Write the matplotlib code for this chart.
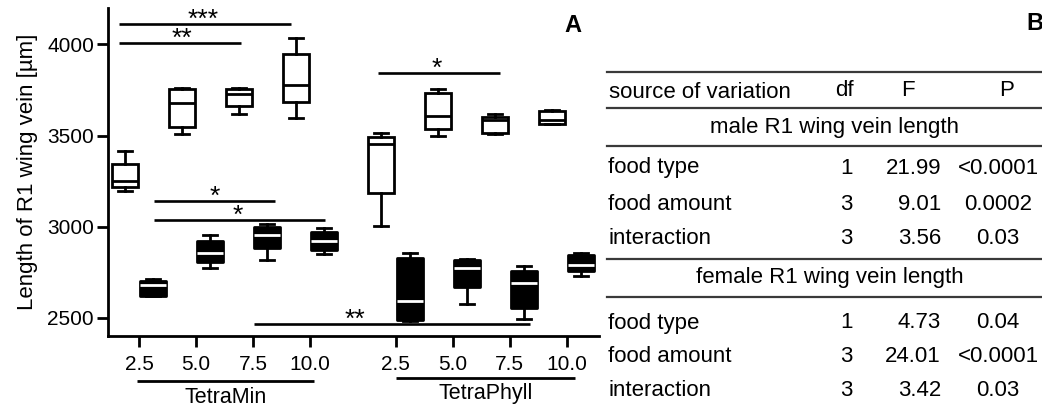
import numpy as np
import matplotlib
matplotlib.use("Agg")
import matplotlib.pyplot as plt

plt.rcParams["font.family"] = ["Liberation Sans", "DejaVu Sans"]

# ---- data --------------------------------------------------------------
amounts = ["2.5", "5.0", "7.5", "10.0"]
foods = ["TetraMin", "TetraPhyll"]
positions = [1, 2, 3, 4, 5.5, 6.5, 7.5, 8.5]

male_lo = [3198, 3511, 3621, 3597, 3005, 3496, 3511, 3562]
male_q1 = [3218, 3548, 3661, 3683, 3185, 3537, 3515, 3564]
male_med = [3249, 3679, 3729, 3777, 3456, 3610, 3584, 3588]
male_q3 = [3344, 3753, 3753, 3945, 3493, 3731, 3603, 3634]
male_hi = [3414, 3762, 3762, 4037, 3515, 3753, 3619, 3638]

fem_lo = [2617, 2773, 2819, 2852, 2485, 2575, 2495, 2727]
fem_q1 = [2621, 2804, 2883, 2874, 2489, 2668, 2553, 2755]
fem_med = [2678, 2855, 2952, 2919, 2593, 2773, 2690, 2791]
fem_q3 = [2700, 2923, 2996, 2971, 2828, 2819, 2758, 2846]
fem_hi = [2712, 2956, 3015, 2993, 2855, 2824, 2786, 2855]

# significance bars: x0, x1, y, label, label x
sig_x0 = [0.65, 0.65, 1.26, 1.26, 3.02, 5.19]
sig_x1 = [3.67, 2.79, 3.39, 4.26, 7.86, 7.33]
sig_y = [4114, 4009, 3139, 3038, 2467, 3844]
sig_lab = ["***", "**", "*", "*", "**", "*"]
sig_tx = [2.12, 1.75, 2.33, 2.74, 4.79, 6.23]

# ANOVA table
tbl_source = ["food type", "food amount", "interaction"]
tbl_df = ["1", "3", "3"]
male_F = ["21.99", "9.01", "3.56"]
male_P = ["<0.0001", "0.0002", "0.03"]
fem_F = ["4.73", "24.01", "3.42"]
fem_P = ["0.04", "<0.0001", "0.03"]


def stats(lo, q1, med, q3, hi):
    return [dict(whislo=a, q1=b, med=c, q3=d, whishi=e, fliers=[])
            for a, b, c, d, e in zip(lo, q1, med, q3, hi)]


W, H = 1042, 408
fig = plt.figure(figsize=(W / 100, H / 100), dpi=100)
ax = fig.add_axes([108 / W, (H - 336) / H, 491 / W, 328 / H])

lw = 2.0
pos = np.array(positions)
ax.bxp(stats(male_lo, male_q1, male_med, male_q3, male_hi),
       positions=pos - 0.25, widths=0.46, capwidths=0.25, patch_artist=True,
       showfliers=False, manage_ticks=False,
       boxprops=dict(facecolor="white", edgecolor="black", linewidth=lw),
       medianprops=dict(color="black", linewidth=lw),
       whiskerprops=dict(color="black", linewidth=lw),
       capprops=dict(color="black", linewidth=lw))
ax.bxp(stats(fem_lo, fem_q1, fem_med, fem_q3, fem_hi),
       positions=pos + 0.25, widths=0.46, capwidths=0.25, patch_artist=True,
       showfliers=False, manage_ticks=False,
       boxprops=dict(facecolor="black", edgecolor="black", linewidth=lw,
                     joinstyle="round"),
       medianprops=dict(color="white", linewidth=lw),
       whiskerprops=dict(color="black", linewidth=lw),
       capprops=dict(color="black", linewidth=lw))

ax.set_xlim(0.456, 9.07)
ax.set_ylim(2400, 4200)
ax.set_yticks([2500, 3000, 3500, 4000])
ax.set_xticks(positions)
ax.set_xticklabels(amounts * 2)
ax.tick_params(axis="both", labelsize=15, width=lw, length=8, pad=2)
ax.tick_params(axis="x", pad=6)
for s in ["top", "right"]:
    ax.spines[s].set_visible(False)
for s in ["left", "bottom"]:
    ax.spines[s].set_linewidth(lw)
ax.set_ylabel("Length of R1 wing vein [µm]", fontsize=16, labelpad=7)

for x0, x1, y, lab, tx in zip(sig_x0, sig_x1, sig_y, sig_lab, sig_tx):
    ax.plot([x0, x1], [y, y], color="black", lw=1.9, solid_capstyle="butt")
    ax.annotate(lab, xy=(tx, y), xytext=(0, -2), textcoords="offset points",
                ha="center", va="baseline", fontsize=19)

# group underlines and names
tr = ax.get_xaxis_transform()
for (g0, g1, gy, ty), name in zip([(0.965, 4.07, -0.137, -0.186),
                                   (5.51, 8.65, -0.128, -0.174)], foods):
    ax.plot([g0, g1], [gy, gy], color="black", lw=lw, transform=tr,
            clip_on=False, solid_capstyle="butt")
    ax.text((g0 + g1) / 2, ty, name, transform=tr, ha="center", va="center",
            fontsize=15.5)

# ---- panel B: table in pixel coordinates --------------------------------
tax = fig.add_axes([0, 0, 1, 1])
tax.set_xlim(0, W)
tax.set_ylim(H, 0)
tax.axis("off")

for ly in [72, 108, 146, 259, 297]:
    tax.plot([607, W], [ly, ly], color="#3a3a3a", lw=1.6)

fs = 16
tax.text(609, 92, "source of variation", fontsize=fs, va="center", ha="left")
tax.text(844, 90, "df", fontsize=fs, va="center", ha="center")
tax.text(908, 90, "F", fontsize=fs, va="center", ha="center")
tax.text(1007, 90, "P", fontsize=fs, va="center", ha="center")
tax.text(835, 127, "male R1 wing vein length", fontsize=fs, va="center",
         ha="center")
tax.text(830, 278, "female R1 wing vein length", fontsize=fs, va="center",
         ha="center")

for rows_y, Fv, Pv in [([168, 205, 239], male_F, male_P),
                       ([323, 356, 390], fem_F, fem_P)]:
    for ry, src, d, f, p in zip(rows_y, tbl_source, tbl_df, Fv, Pv):
        tax.text(608, ry, src, fontsize=fs, va="center", ha="left")
        tax.text(846, ry, d, fontsize=fs, va="center", ha="center")
        tax.text(941, ry, f, fontsize=fs, va="center", ha="right")
        tax.text(998, ry, p, fontsize=fs, va="center", ha="center")

fig.text(573 / W, 1 - 25 / H, "A", fontsize=17, fontweight="bold",
         ha="center", va="center")
fig.text(1035 / W, 1 - 23 / H, "B", fontsize=17, fontweight="bold",
         ha="center", va="center")

fig.savefig("out.png", dpi=100)
